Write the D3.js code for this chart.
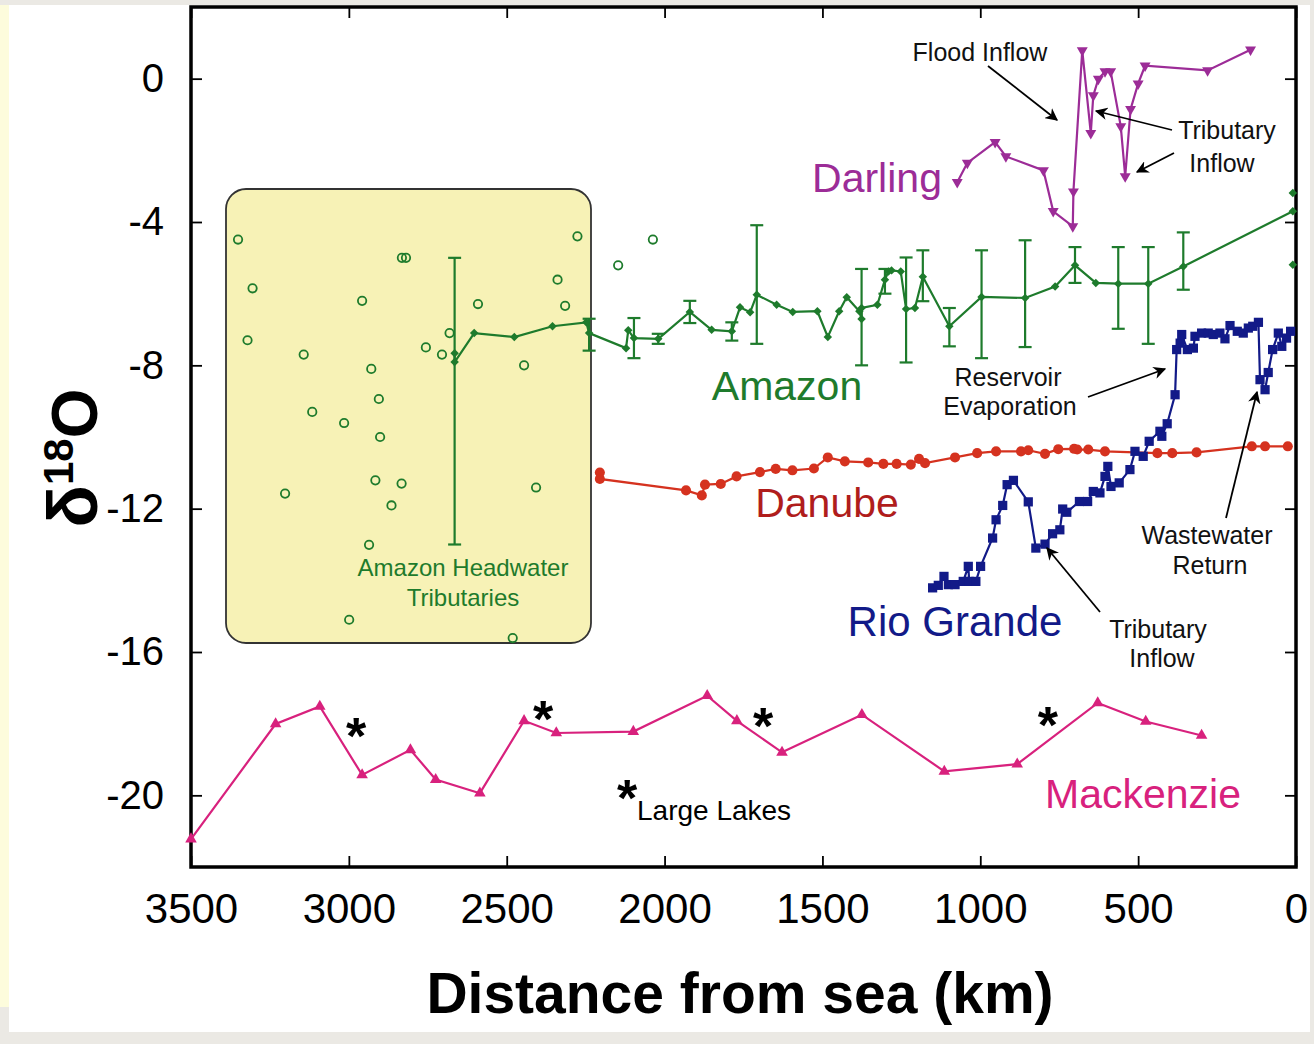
<!DOCTYPE html>
<html>
<head>
<meta charset="utf-8">
<script src="https://cdn.jsdelivr.net/npm/d3@7"></script>
<style>
  body { margin: 0; background: #ebe9e4; }
  svg { display: block; font-family: "Liberation Sans", Arial, sans-serif; }
</style>
</head>
<body>
<svg width="1314" height="1044"></svg>
<script>
// ---- data (km from sea, delta 18O) ----
var xTicks = [3500, 3000, 2500, 2000, 1500, 1000, 500, 0];
var yTicks = [0, -4, -8, -12, -16, -20];

var darling = [[1073,-2.89],[1041,-2.35],[953,-1.77],[919,-2.17],[800,-2.56],[769,-3.70],[707,-4.12],[705,-3.15],
  [677,0.79],[650,-1.52],[642,-0.47],[626,-0.01],[605,0.20],[587,0.20],[555,-1.33],[541,-2.73],[524,-0.85],
  [500,-0.14],[478,0.36],[280,0.23],[144,0.81]];

var amazon = [[2665,-7.66],[2665,-7.91],[2603,-7.10],[2476,-7.21],[2355,-6.91],[2248,-6.80],[2239,-7.10],[2122,-7.52],
  [2115,-7.02],[2097,-7.24],[2020,-7.26],[1920,-6.51],[1851,-7.01],[1787,-7.05],[1761,-6.38],[1729,-6.52],[1708,-6.03],
  [1645,-6.31],[1594,-6.51],[1516,-6.49],[1483,-7.21],[1447,-6.49],[1423,-6.10],[1383,-6.49],[1376,-6.71],[1376,-6.40],
  [1326,-6.31],[1302,-5.61],[1291,-5.38],[1281,-5.35],[1252,-5.38],[1235,-6.43],[1207,-6.40],[1182,-5.53],[1098,-6.91],
  [996,-6.09],[858,-6.12],[763,-5.80],[700,-5.21],[634,-5.70],[563,-5.72],[468,-5.72],[357,-5.24],[10,-3.70]];
var amazonMouth = [[10,-3.19],[10,-5.19]];
// [km, upper, lower]
var amazonErr = [[2665,-5.0,-13.0],[2239,-6.70,-7.59],[2097,-6.68,-7.80],[2020,-7.12,-7.40],[1920,-6.20,-6.82],
  [1787,-6.80,-7.31],[1708,-4.09,-7.40],[1376,-5.31,-8.00],[1302,-5.31,-6.00],[1235,-4.99,-7.92],[1182,-4.79,-6.21],
  [1098,-6.40,-7.47],[996,-4.79,-7.80],[858,-4.51,-7.49],[700,-4.70,-5.70],[563,-4.70,-6.98],[468,-4.70,-7.40],
  [357,-4.29,-5.89]];

var headwater = [[3351,-4.49],[3305,-5.85],[3321,-7.30],[3143,-7.70],[2958,-6.20],[2929,-8.10],[2905,-8.94],
  [3116,-9.30],[3015,-9.61],[2901,-10.0],[2832,-5.00],[2819,-5.00],[2756,-7.50],[2705,-7.70],[2681,-7.10],
  [2591,-6.29],[2445,-8.00],[2339,-5.61],[2315,-6.34],[2276,-4.40],[2147,-5.21],[2037,-4.49],[3202,-11.58],
  [2916,-11.21],[2833,-11.30],[2865,-11.91],[2407,-11.41],[2936,-13.01],[2999,-15.10],[2481,-15.61]];

var danube = [[2205,-10.99],[2205,-11.17],[1932,-11.49],[1882,-11.63],[1872,-11.33],[1822,-11.31],[1772,-11.10],
  [1698,-10.98],[1648,-10.89],[1595,-10.93],[1527,-10.88],[1483,-10.57],[1429,-10.68],[1355,-10.71],[1307,-10.75],
  [1265,-10.75],[1220,-10.77],[1194,-10.61],[1175,-10.73],[1080,-10.57],[1010,-10.45],[950,-10.40],[871,-10.40],
  [848,-10.37],[795,-10.47],[753,-10.34],[703,-10.33],[693,-10.35],[658,-10.35],[605,-10.40],[439,-10.45],
  [392,-10.45],[315,-10.43],[140,-10.26],[98,-10.26],[26,-10.26]];

var rioGrande = [[1151,-14.21],[1133,-14.14],[1115,-13.89],[1101,-14.12],[1080,-14.12],[1054,-14.03],[1038,-13.61],
  [1035,-14.03],[1014,-14.03],[999,-13.61],[961,-12.82],[950,-12.31],[929,-11.91],[915,-11.33],[895,-11.21],
  [848,-11.81],[824,-13.10],[795,-12.99],[771,-12.70],[748,-12.59],[739,-12.01],[726,-12.10],[686,-11.80],
  [660,-11.80],[642,-11.52],[621,-11.56],[605,-11.10],[596,-10.82],[586,-11.38],[560,-11.28],[526,-10.91],
  [510,-10.40],[484,-10.54],[465,-10.12],[431,-9.84],[425,-9.98],[408,-9.63],[383,-8.82],[378,-7.56],[367,-7.38],
  [362,-7.14],[344,-7.56],[325,-7.52],[320,-7.19],[299,-7.10],[278,-7.10],[262,-7.14],[241,-7.10],[225,-7.26],
  [209,-6.89],[186,-7.05],[167,-7.10],[151,-6.96],[137,-6.91],[119,-6.80],[114,-8.40],[98,-8.68],[88,-8.20],
  [74,-7.56],[56,-7.10],[45,-7.47],[30,-7.24],[17,-7.05]];

var mackenzie = [[3500,-21.22],[3232,-18.01],[3092,-17.52],[2958,-19.43],[2805,-18.73],[2725,-19.56],[2585,-19.94],
  [2445,-17.92],[2343,-18.26],[2099,-18.22],[1865,-17.22],[1771,-17.92],[1628,-18.80],[1375,-17.75],[1114,-19.33],
  [883,-19.13],[628,-17.42],[476,-17.94],[299,-18.33]];

// large lakes markers (centre of asterisk)
var lakes = [[2977,-18.11],[2385,-17.64],[1688,-17.84],[786,-17.81]];

var svg = d3.select("svg");

// page background bits
svg.append("rect").attr("x", 9).attr("y", 5).attr("width", 1301).attr("height", 1027).attr("fill", "#fff");
svg.append("rect").attr("x", 0).attr("y", 5).attr("width", 9).attr("height", 1002).attr("fill", "#fdfcdc");

var plotL = 191, plotR = 1296, plotT = 7, plotB = 867;

var x = d3.scaleLinear().domain([3500, 0]).range([plotL, plotR]);
var y = d3.scaleLinear().domain([2, -22]).range([plotT, plotB]);

var colAmazon = "#1e7b2c", colDarling = "#9c2c97", colDanube = "#d5321f",
    colRio = "#121a88", colMack = "#d8217d";

// headwater box
svg.append("rect")
    .attr("x", 226).attr("y", 189).attr("width", 365).attr("height", 454)
    .attr("rx", 20).attr("ry", 20)
    .attr("fill", "#f7f2b6").attr("stroke", "#333").attr("stroke-width", 1.8);

// axes (ticks inward)
var fmt = function(d) { return String(d); };
var gx = svg.append("g").attr("transform", "translate(0," + plotB + ")")
    .call(d3.axisBottom(x).tickValues(xTicks).tickSize(-11).tickPadding(26).tickFormat(fmt));
var gxt = svg.append("g").attr("transform", "translate(0," + plotT + ")")
    .call(d3.axisTop(x).tickValues(xTicks).tickSize(-11).tickFormat(""));
var gy = svg.append("g").attr("transform", "translate(" + plotL + ",0)")
    .call(d3.axisLeft(y).tickValues(yTicks).tickSize(-11).tickPadding(27).tickFormat(fmt));
var gyr = svg.append("g").attr("transform", "translate(" + plotR + ",0)")
    .call(d3.axisRight(y).tickValues(yTicks).tickSize(-11).tickFormat(""));
[gx, gxt, gy, gyr].forEach(function(g) {
  g.select(".domain").remove();
  g.selectAll(".tick line").attr("stroke", "#000").attr("stroke-width", 1.8);
});
gx.selectAll("text").attr("font-size", 42).attr("fill", "#000").attr("font-family", "Liberation Sans, Arial");
gy.selectAll("text").attr("font-size", 40).attr("fill", "#000").attr("font-family", "Liberation Sans, Arial");

svg.append("rect")
    .attr("x", plotL).attr("y", plotT).attr("width", plotR - plotL).attr("height", plotB - plotT)
    .attr("fill", "none").attr("stroke", "#000").attr("stroke-width", 3.5);

var line = d3.line().x(function(d) { return x(d[0]); }).y(function(d) { return y(d[1]); });

function series(data, color, symbol, size, rotate) {
  svg.append("path").attr("d", line(data)).attr("fill", "none")
      .attr("stroke", color).attr("stroke-width", 2.2);
  svg.append("g").selectAll("path").data(data).join("path")
      .attr("d", d3.symbol().type(symbol).size(size))
      .attr("transform", function(d) {
        return "translate(" + x(d[0]) + "," + y(d[1]) + ")" + (rotate ? " rotate(180)" : "");
      })
      .attr("fill", color);
}

// headwater open circles
svg.append("g").selectAll("circle").data(headwater).join("circle")
    .attr("cx", function(d) { return x(d[0]); })
    .attr("cy", function(d) { return y(d[1]); })
    .attr("r", 4.2).attr("fill", "none").attr("stroke", colAmazon).attr("stroke-width", 1.8);

// amazon error bars
var eb = svg.append("g").attr("stroke", colAmazon).attr("stroke-width", 2.2);
amazonErr.forEach(function(d) {
  var cx = x(d[0]);
  eb.append("line").attr("x1", cx).attr("x2", cx).attr("y1", y(d[1])).attr("y2", y(d[2]));
  eb.append("line").attr("x1", cx - 6.5).attr("x2", cx + 6.5).attr("y1", y(d[1])).attr("y2", y(d[1]));
  eb.append("line").attr("x1", cx - 6.5).attr("x2", cx + 6.5).attr("y1", y(d[2])).attr("y2", y(d[2]));
});

series(amazon, colAmazon, d3.symbolDiamond2, 46);
svg.append("g").selectAll("path").data(amazonMouth).join("path")
    .attr("d", d3.symbol().type(d3.symbolDiamond2).size(46))
    .attr("transform", function(d) { return "translate(" + x(d[0]) + "," + y(d[1]) + ")"; })
    .attr("fill", colAmazon);

series(darling, colDarling, d3.symbolTriangle, 52, true);
series(danube, colDanube, d3.symbolCircle, 80);
series(rioGrande, colRio, d3.symbolSquare, 85);
series(mackenzie, colMack, d3.symbolTriangle, 58);

// lakes asterisks
svg.append("g").selectAll("text").data(lakes).join("text")
    .attr("x", function(d) { return x(d[0]); })
    .attr("y", function(d) { return y(d[1]) + 26; })
    .attr("text-anchor", "middle").attr("font-size", 52).attr("font-weight", "bold")
    .text("*");
svg.append("text").attr("x", 627).attr("y", 816).attr("text-anchor", "middle")
    .attr("font-size", 52).attr("font-weight", "bold").text("*");
svg.append("text").attr("x", 637).attr("y", 820).attr("font-size", 28).text("Large Lakes");

// labels
function label(txt, cx, by, size, color) {
  svg.append("text").attr("x", cx).attr("y", by).attr("text-anchor", "middle")
      .attr("font-size", size).attr("fill", color).text(txt);
}
label("Darling", 877, 192, 41, colDarling);
label("Amazon", 787, 400, 41, colAmazon);
label("Danube", 827, 517, 41, "#b01d1c");
label("Rio Grande", 955, 636, 42, colRio);
label("Mackenzie", 1143, 808, 41, colMack);
label("Amazon Headwater", 463, 576, 24, colAmazon);
label("Tributaries", 463, 606, 24, colAmazon);

label("Flood Inflow", 980, 61, 25, "#111");
label("Tributary", 1227, 139, 25, "#111");
label("Inflow", 1222, 172, 25, "#111");
label("Reservoir", 1008, 386, 25, "#111");
label("Evaporation", 1010, 415, 25, "#111");
label("Wastewater", 1207, 544, 25, "#111");
label("Return", 1210, 574, 25, "#111");
label("Tributary", 1158, 638, 25, "#111");
label("Inflow", 1162, 667, 25, "#111");

// arrows
var defs = svg.append("defs");
defs.append("marker").attr("id", "ah").attr("viewBox", "0 0 10 10").attr("refX", 9).attr("refY", 5)
    .attr("markerWidth", 7).attr("markerHeight", 7).attr("orient", "auto")
    .append("path").attr("d", "M0,0 L10,5 L0,10 L3,5 Z").attr("fill", "#000");
var arrows = [[988,66,1057,120],[1172,130,1096,111],[1174,153,1137,172],[1088,397,1165,369],
  [1226,518,1257,392],[1100,612,1047,548]];
arrows.forEach(function(a) {
  svg.append("line").attr("x1", a[0]).attr("y1", a[1]).attr("x2", a[2]).attr("y2", a[3])
      .attr("stroke", "#000").attr("stroke-width", 1.8).attr("marker-end", "url(#ah)");
});

// axis titles
svg.append("text").attr("x", 740).attr("y", 1013).attr("text-anchor", "middle")
    .attr("font-size", 57).attr("font-weight", "bold").text("Distance from sea (km)");

var yt = svg.append("text").attr("transform", "translate(97,458) rotate(-90)")
    .attr("text-anchor", "middle").attr("font-weight", "bold").attr("font-size", 64);
yt.append("tspan").attr("font-size", 70).text("δ");
yt.append("tspan").attr("font-size", 42).attr("dy", -24).text("18");
yt.append("tspan").attr("dy", 24).text("O");
</script>
</body>
</html>
